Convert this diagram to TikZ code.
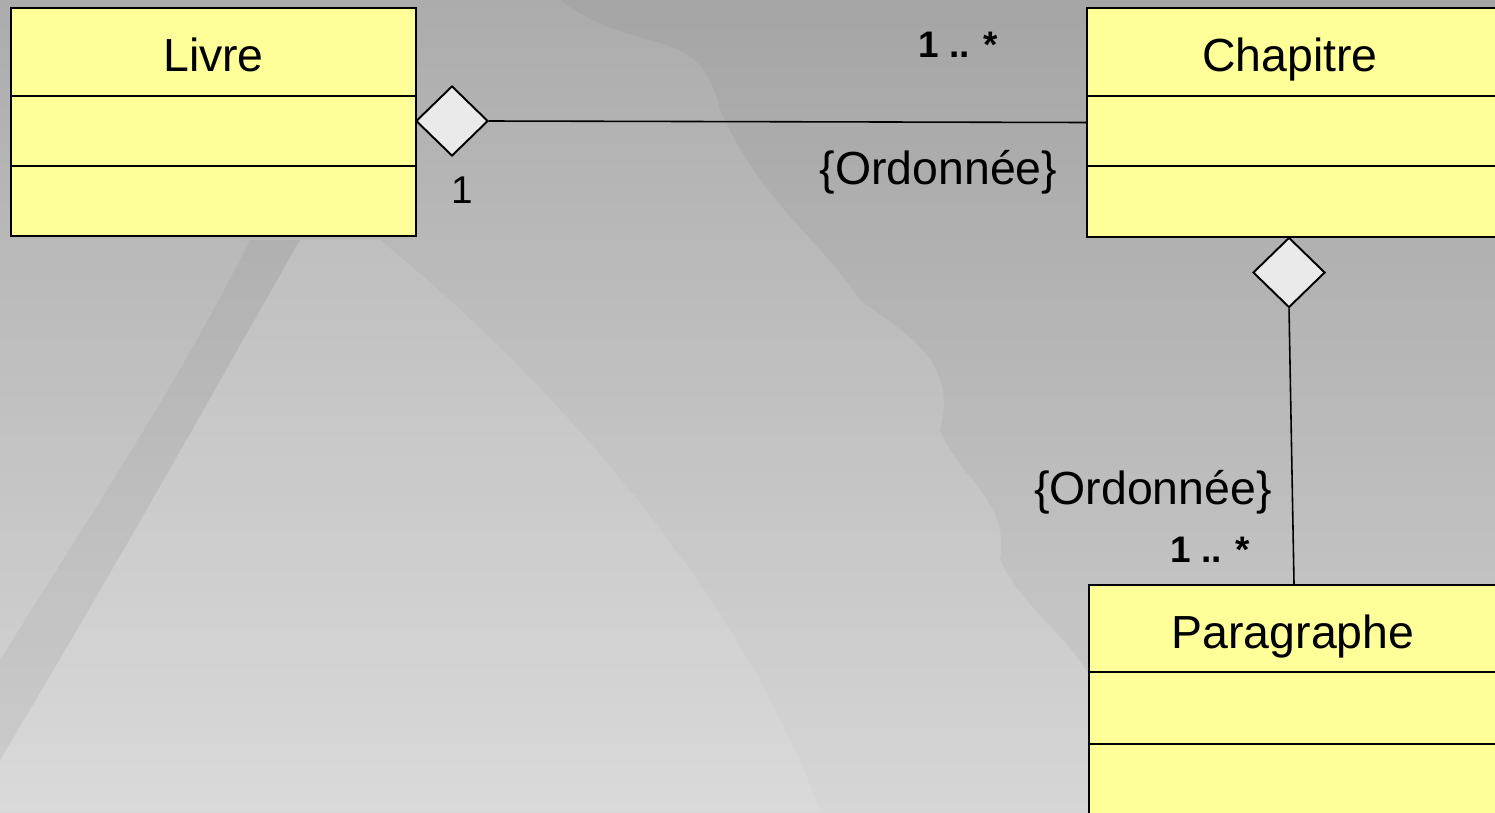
\documentclass[tikz,border=0pt]{standalone}
\usepackage{fontspec}
\setmainfont{Liberation Sans}
\usetikzlibrary{shapes.geometric}
\definecolor{bgtop}{RGB}{172,172,172}
\definecolor{bgbot}{RGB}{214,214,214}
\definecolor{classfill}{RGB}{255,255,153}
\definecolor{diafill}{RGB}{234,234,234}
\tikzset{
  classbox/.style={draw=black, line width=0.45pt, fill=classfill, inner sep=0pt},
  classname/.style={font=\fontsize{13.2}{15}\selectfont, inner sep=0pt, anchor=base},
  agg/.style={draw=black, line width=0.55pt, fill=diafill, shape=diamond, inner sep=0pt, minimum width=0.72cm, minimum height=0.70cm},
  assoc/.style={draw=black, line width=0.45pt},
  mult/.style={font=\fontsize{10.5}{12}\selectfont\bfseries, inner sep=0pt},
  multr/.style={font=\fontsize{11}{13}\selectfont, inner sep=0pt},
  constr/.style={font=\fontsize{13.2}{15}\selectfont, inner sep=0pt},
  divider/.style={draw=black, line width=0.45pt}
}
\begin{document}
\begin{tikzpicture}[x=0.01cm,y=-0.01cm]
\useasboundingbox (0,0) rectangle (1495,812);
\clip (0,0) rectangle (1495,812);
% background
\shade[top color=bgtop, bottom color=bgbot] (0,0) rectangle (1495,812);
% watermark (gear)
\fill[black, opacity=0.04] (560,0) .. controls (640,60) and (700,20) .. (720,110)
  .. controls (760,200) and (820,240) .. (860,300)
  .. controls (900,330) and (960,360) .. (940,430)
  .. controls (960,480) and (1010,500) .. (1000,560)
  .. controls (1030,620) and (1080,640) .. (1100,700)
  -- (1495,700) -- (1495,0) -- cycle;
\fill[white, opacity=0.10] (380,240) .. controls (600,420) and (760,640) .. (820,812)
  -- (0,812) -- (0,760) .. controls (120,560) and (220,380) .. (300,240) -- cycle;
\fill[black, opacity=0.04] (300,240) .. controls (220,380) and (120,560) .. (0,760)
  -- (0,660) .. controls (100,500) and (180,380) .. (250,240) -- cycle;
% classes
\node[classbox, minimum width=4.05cm, minimum height=2.28cm] (livre) at (213.5,122) {};
\node[classname] (livret) at (213.5,71) {Livre};
\draw[divider] (11,96) -- (416,96);
\draw[divider] (11,166) -- (416,166);

\node[classbox, minimum width=4.10cm, minimum height=2.29cm] (chap) at (1292,122.5) {};
\node[classname] (chapt) at (1290,71) {Chapitre};
\draw[divider] (1087,96) -- (1497,96);
\draw[divider] (1087,166) -- (1497,166);

\node[classbox, minimum width=4.10cm, minimum height=2.50cm] (para) at (1294,710) {};
\node[classname] (parat) at (1293,648) {Paragraphe};
\draw[divider] (1089,672) -- (1499,672);
\draw[divider] (1089,744) -- (1499,744);

% aggregations
\node[agg] (d1) at (452,121) {};
\draw[assoc] (d1.east) -- (chap.west);
\node[agg] (d2) at (1289,272.5) {};
\draw[assoc] (d2.south) -- (para.north);

% labels
\node[mult] (m1) at (958,45) {1 .. *};
\node[multr] (m2) at (462,190) {1};
\node[constr, anchor=east] (c1) at (1058,172) {\{Ordonnée\}};
\node[constr] (c2) at (1153,492) {\{Ordonnée\}};
\node[mult] (m3) at (1210,550) {1 .. *};
\end{tikzpicture}
\end{document}
